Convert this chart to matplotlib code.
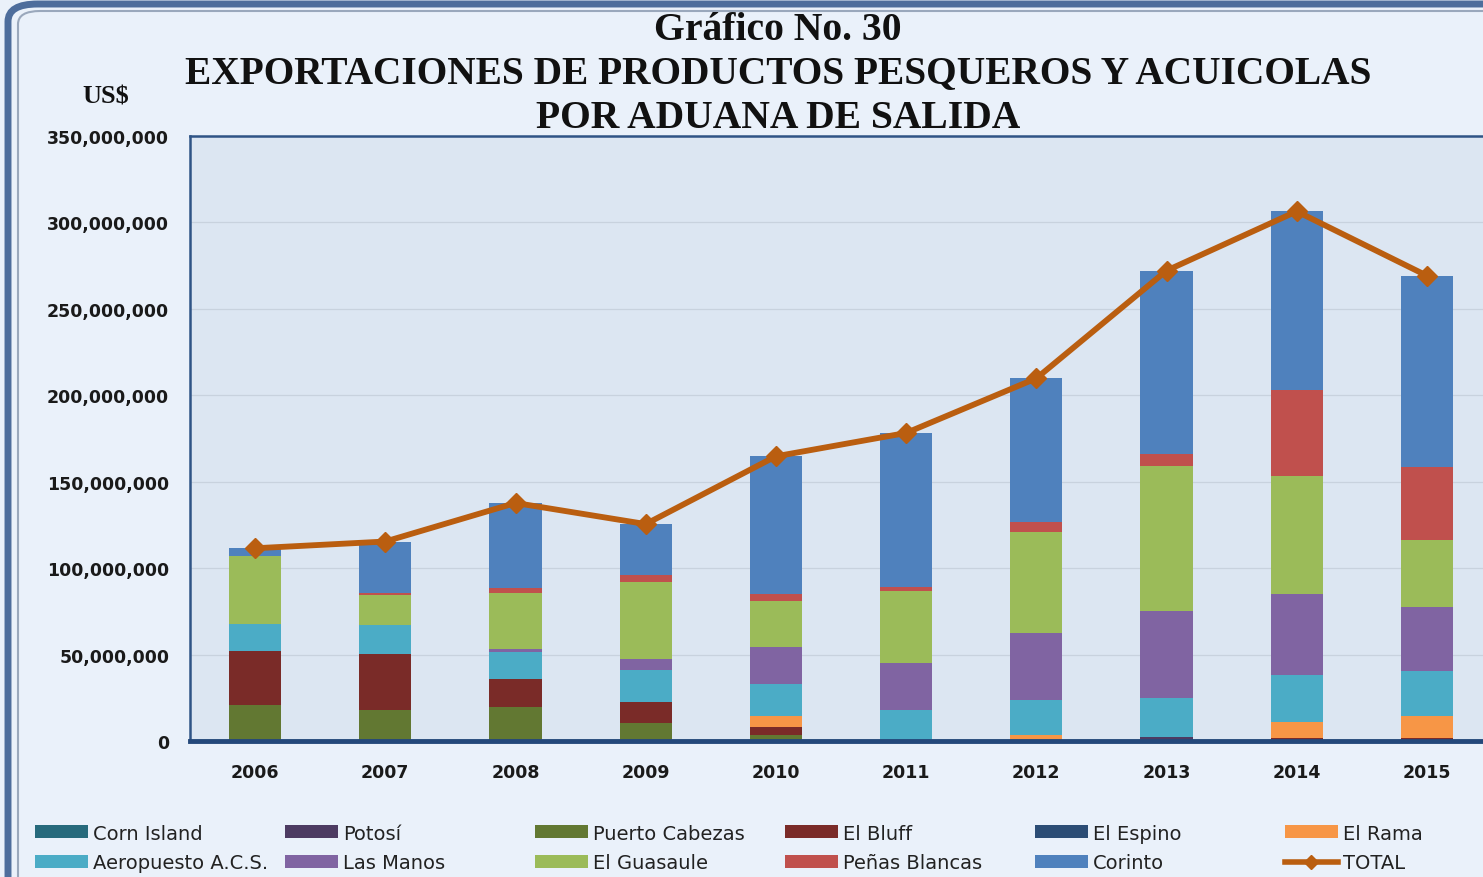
import matplotlib
matplotlib.use("Agg")
import matplotlib.pyplot as plt
from matplotlib.patches import Patch, FancyBboxPatch
from matplotlib.lines import Line2D
from matplotlib.ticker import FuncFormatter, MultipleLocator
import numpy as np

# ---------------- data (US$ millions) ----------------
years = ["2006", "2007", "2008", "2009", "2010", "2011", "2012", "2013", "2014", "2015"]
corn_island    = [0, 0, 0, 0, 0, 0, 0, 0, 0, 0]
potosi         = [0, 0, 0, 0, 0, 0.8, 0, 2.1, 0, 0]
puerto_cabezas = [20.8, 18.1, 19.8, 10.4, 3.5, 0, 0, 0, 0, 0]
el_bluff       = [31.4, 32.2, 16.0, 12.3, 4.5, 0, 0.5, 0, 1.6, 1.6]
el_espino      = [0, 0, 0, 0, 0, 0, 0, 0, 0, 0]
el_rama        = [0, 0, 0, 0, 6.7, 0, 3.0, 0, 9.6, 13.1]
aeropuerto     = [15.4, 16.8, 15.6, 18.3, 18.3, 17.1, 20.2, 22.6, 27.2, 25.7]
las_manos      = [0, 0, 1.7, 6.4, 21.2, 27.0, 38.8, 50.7, 46.7, 37.0]
el_guasaule    = [39.5, 17.4, 32.8, 44.7, 27.0, 42.0, 58.6, 83.5, 68.4, 39.1]
penas_blancas  = [0, 1.0, 2.9, 4.0, 3.9, 2.0, 5.4, 7.1, 49.8, 41.9]
corinto        = [4.3, 29.9, 48.8, 29.3, 79.7, 89.3, 83.3, 106.0, 103.2, 110.8]
total          = [111.5, 115.4, 137.7, 125.5, 164.7, 178.2, 209.8, 272.1, 306.4, 269.2]
UNIT = 1e6

series = [
    ("Corn Island", corn_island, "#276A7C"),
    ("Potosí", potosi, "#4D3B62"),
    ("Puerto Cabezas", puerto_cabezas, "#627832"),
    ("El Bluff", el_bluff, "#7A2B28"),
    ("El Espino", el_espino, "#2C4D75"),
    ("El Rama", el_rama, "#F79646"),
    ("Aeropuesto A.C.S.", aeropuerto, "#4BACC6"),
    ("Las Manos", las_manos, "#8064A2"),
    ("El Guasaule", el_guasaule, "#9BBB59"),
    ("Peñas Blancas", penas_blancas, "#C0504D"),
    ("Corinto", corinto, "#4F81BD"),
]
TOTAL_COLOR = "#BA5E10"

# ---------------- figure ----------------
W, H = 1483, 878
fig = plt.figure(figsize=(W / 100, H / 100), dpi=100)
fig.patch.set_facecolor("#EAF1FA")

# outer rounded frame (only top and left edges visible)
frame = FancyBboxPatch((8 / W, -0.5), 1.5, 1.5 - 5 / H, transform=fig.transFigure,
                       boxstyle="round,pad=0,rounding_size=0.02",
                       facecolor="none", edgecolor="#4D6D9C", linewidth=5, zorder=0)
fig.add_artist(frame)
frame2 = FancyBboxPatch((18 / W, -0.5), 1.5, 1.5 - 12 / H, transform=fig.transFigure,
                        boxstyle="round,pad=0,rounding_size=0.015",
                        facecolor="none", edgecolor="#9AA8BC", linewidth=1.5, zorder=0)
fig.add_artist(frame2)

left_px, right_px, top_px, bottom_px = 190, 1492, 137, 742
ax = fig.add_axes([left_px / W, 1 - bottom_px / H,
                   (right_px - left_px) / W, (bottom_px - top_px) / H])
ax.set_facecolor("#DCE6F2")

x = np.arange(len(years))
bottom = np.zeros(len(years))
for name, vals, col in series:
    v = np.array(vals) * UNIT
    ax.bar(x, v, width=0.4, bottom=bottom, color=col, label=name, zorder=2)
    bottom += v

ax.plot(x, np.array(total) * UNIT, color=TOTAL_COLOR, linewidth=4.2,
        marker="D", markersize=10, zorder=4)

ax.set_xlim(-0.5, 9.5)
ax.set_ylim(0, 350e6)
ax.yaxis.set_major_locator(MultipleLocator(50e6))
ax.yaxis.set_major_formatter(FuncFormatter(lambda v, p: f"{v:,.0f}"))
ax.set_xticks(x)
ax.set_xticklabels(years)
ax.grid(axis="y", color="#C8D2DE", linewidth=0.9, zorder=0)
ax.set_axisbelow(True)
ax.tick_params(axis="both", length=0, labelsize=12.5, colors="#1a1a1a")
ax.tick_params(axis="y", pad=15)
ax.tick_params(axis="x", pad=16)
for lab in ax.get_xticklabels() + ax.get_yticklabels():
    lab.set_fontweight("bold")

for s in ["left", "top"]:
    ax.spines[s].set_color("#2F5486")
    ax.spines[s].set_linewidth(1.8)
ax.spines["bottom"].set_color("#24487A")
ax.spines["bottom"].set_linewidth(3.5)
ax.spines["right"].set_visible(False)

# ---------------- titles ----------------
tkw = dict(ha="center", va="center", family="Liberation Serif",
           fontweight="bold", color="#111111")
fig.text(778 / W, 1 - 30 / H, "Gráfico No. 30", fontsize=28.5, **tkw)
fig.text(778 / W, 1 - 74 / H, "EXPORTACIONES DE PRODUCTOS PESQUEROS Y ACUICOLAS",
         fontsize=28.4, **tkw)
fig.text(778 / W, 1 - 118 / H, "POR ADUANA DE SALIDA", fontsize=28.5, **tkw)
fig.text(106 / W, 1 - 97 / H, "US$", fontsize=19, **tkw)

# ---------------- legend (6 columns x 2 rows, row-major) ----------------
handles = [Patch(facecolor=c, edgecolor="none") for _, _, c in series]
labels = [n for n, _, _ in series]
handles.append(Line2D([], [], color=TOTAL_COLOR, linewidth=4, marker="D", markersize=7))
labels.append("TOTAL")
for col in range(6):
    hs = [handles[col], handles[col + 6]]
    ls = [labels[col], labels[col + 6]]
    fig.legend(hs, ls, loc="center left",
               bbox_to_anchor=((35 + 250 * col) / W, 1 - 849 / H),
               frameon=False, fontsize=14, handlelength=2.7, handleheight=0.65,
               handletextpad=0.3, labelspacing=0.55, borderpad=0, borderaxespad=0,
               labelcolor="#222222")

fig.savefig("out.png", dpi=100, facecolor=fig.get_facecolor())
